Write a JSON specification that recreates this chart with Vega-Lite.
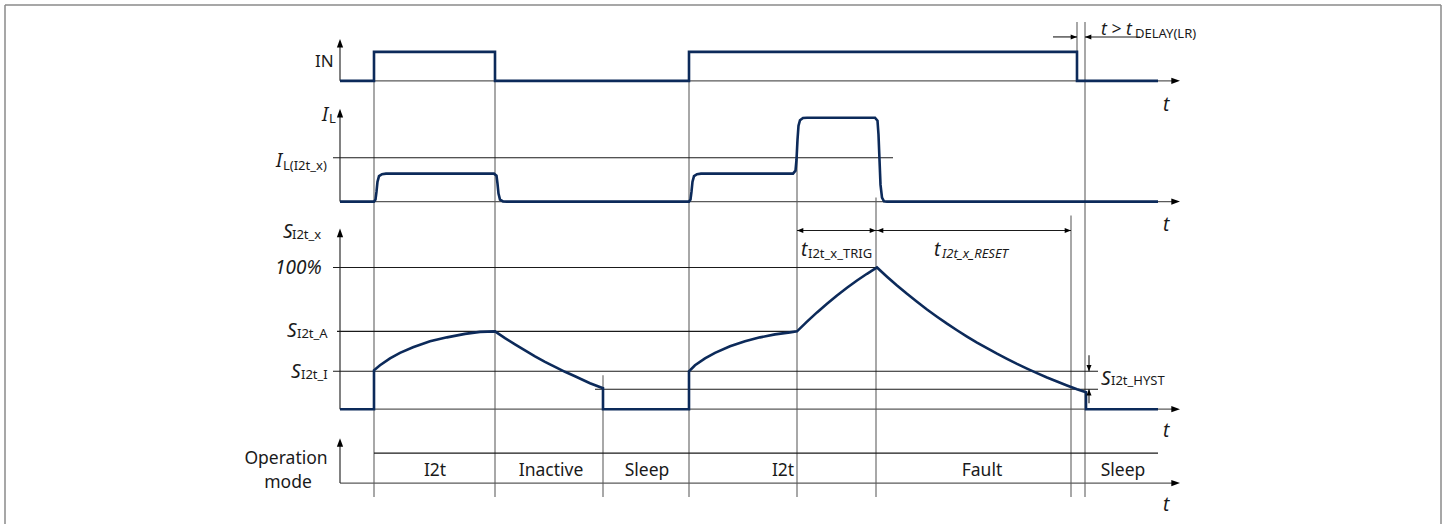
{
  "$schema": "https://vega.github.io/schema/vega-lite/v6.json",
  "width": 1448,
  "height": 525,
  "padding": 0,
  "autosize": {"type": "fit", "contains": "padding"},
  "background": "white",
  "view": {"stroke": null},
  "datasets": {
    "sigIN": [
      {"i": 0, "x": 340, "y": 81}, {"i": 1, "x": 374, "y": 81}, {"i": 2, "x": 374, "y": 52}, {"i": 3, "x": 495, "y": 52},
      {"i": 4, "x": 495, "y": 81}, {"i": 5, "x": 689, "y": 81}, {"i": 6, "x": 689, "y": 52}, {"i": 7, "x": 1077, "y": 52},
      {"i": 8, "x": 1077, "y": 81}, {"i": 9, "x": 1158, "y": 81}
    ],
    "sigIL": [
      {"i": 0, "x": 340, "y": 202}, {"i": 1, "x": 374, "y": 202}, {"i": 2, "x": 375.5, "y": 200}, {"i": 3, "x": 376.5, "y": 192},
      {"i": 4, "x": 377.5, "y": 182}, {"i": 5, "x": 379, "y": 176.5}, {"i": 6, "x": 382, "y": 174.5}, {"i": 7, "x": 386, "y": 174},
      {"i": 8, "x": 494, "y": 174}, {"i": 9, "x": 496.5, "y": 176}, {"i": 10, "x": 497.5, "y": 184}, {"i": 11, "x": 498.5, "y": 194},
      {"i": 12, "x": 500, "y": 200}, {"i": 13, "x": 503, "y": 201.8}, {"i": 14, "x": 507, "y": 202}, {"i": 15, "x": 689, "y": 202},
      {"i": 16, "x": 690.5, "y": 200}, {"i": 17, "x": 691.5, "y": 192}, {"i": 18, "x": 692.5, "y": 182}, {"i": 19, "x": 694, "y": 176.5},
      {"i": 20, "x": 697, "y": 174.5}, {"i": 21, "x": 701, "y": 174}, {"i": 22, "x": 793, "y": 174}, {"i": 23, "x": 795.5, "y": 171},
      {"i": 24, "x": 796.5, "y": 160}, {"i": 25, "x": 797.5, "y": 140}, {"i": 26, "x": 798.5, "y": 126}, {"i": 27, "x": 800, "y": 120.5},
      {"i": 28, "x": 803, "y": 118.3}, {"i": 29, "x": 807, "y": 118}, {"i": 30, "x": 875, "y": 118}, {"i": 31, "x": 877.5, "y": 121},
      {"i": 32, "x": 878.5, "y": 135}, {"i": 33, "x": 879.5, "y": 160}, {"i": 34, "x": 880.5, "y": 185}, {"i": 35, "x": 882, "y": 198},
      {"i": 36, "x": 884, "y": 201.7}, {"i": 37, "x": 887, "y": 202}, {"i": 38, "x": 1158, "y": 202}
    ],
    "sigS": [
      {"i": 0, "x": 340, "y": 410}, {"i": 1, "x": 374, "y": 410}, {"i": 2, "x": 374, "y": 371}, {"i": 3, "x": 380, "y": 366},
      {"i": 4, "x": 390, "y": 359}, {"i": 5, "x": 400, "y": 353.5}, {"i": 6, "x": 413, "y": 348}, {"i": 7, "x": 430, "y": 342},
      {"i": 8, "x": 447, "y": 338}, {"i": 9, "x": 465, "y": 334.5}, {"i": 10, "x": 480, "y": 332.5}, {"i": 11, "x": 495, "y": 332},
      {"i": 12, "x": 505, "y": 338.8}, {"i": 13, "x": 515, "y": 345}, {"i": 14, "x": 525, "y": 351}, {"i": 15, "x": 535, "y": 357},
      {"i": 16, "x": 545, "y": 362.5}, {"i": 17, "x": 555, "y": 367.5}, {"i": 18, "x": 565, "y": 372.5}, {"i": 19, "x": 575, "y": 377},
      {"i": 20, "x": 590, "y": 384}, {"i": 21, "x": 603, "y": 389}, {"i": 22, "x": 603, "y": 410}, {"i": 23, "x": 689, "y": 410},
      {"i": 24, "x": 689, "y": 372}, {"i": 25, "x": 695, "y": 366}, {"i": 26, "x": 705, "y": 359}, {"i": 27, "x": 715, "y": 353.5},
      {"i": 28, "x": 730, "y": 347}, {"i": 29, "x": 745, "y": 342}, {"i": 30, "x": 760, "y": 338}, {"i": 31, "x": 775, "y": 335},
      {"i": 32, "x": 790, "y": 333}, {"i": 33, "x": 797, "y": 332}, {"i": 34, "x": 807, "y": 322.3}, {"i": 35, "x": 817, "y": 313},
      {"i": 36, "x": 827, "y": 304.3}, {"i": 37, "x": 837, "y": 296}, {"i": 38, "x": 847, "y": 288.3}, {"i": 39, "x": 857, "y": 281},
      {"i": 40, "x": 867, "y": 274.3}, {"i": 41, "x": 877, "y": 268}, {"i": 42, "x": 887, "y": 277.2}, {"i": 43, "x": 897, "y": 286},
      {"i": 44, "x": 907, "y": 294.4}, {"i": 45, "x": 917, "y": 302.4}, {"i": 46, "x": 927, "y": 310.1}, {"i": 47, "x": 937, "y": 317.3},
      {"i": 48, "x": 947, "y": 324.3}, {"i": 49, "x": 957, "y": 330.9}, {"i": 50, "x": 967, "y": 337.2}, {"i": 51, "x": 977, "y": 343.2},
      {"i": 52, "x": 987, "y": 348.9}, {"i": 53, "x": 997, "y": 354.4}, {"i": 54, "x": 1007, "y": 359.6}, {"i": 55, "x": 1017, "y": 364.6},
      {"i": 56, "x": 1027, "y": 369.3}, {"i": 57, "x": 1037, "y": 373.8}, {"i": 58, "x": 1047, "y": 378.2}, {"i": 59, "x": 1057, "y": 382.3},
      {"i": 60, "x": 1067, "y": 386.2}, {"i": 61, "x": 1077, "y": 389.9}, {"i": 62, "x": 1086, "y": 393}, {"i": 63, "x": 1086, "y": 410},
      {"i": 64, "x": 1158, "y": 410}
    ],
    "blackLines": [
      {"x": 340, "x2": 340, "y": 81, "y2": 44}, {"x": 340, "x2": 340, "y": 202, "y2": 114},
      {"x": 340, "x2": 340, "y": 410, "y2": 234}, {"x": 340, "x2": 340, "y": 484, "y2": 444},
      {"x": 333, "x2": 893, "y": 158, "y2": 158}, {"x": 333, "x2": 877, "y": 268, "y2": 268},
      {"x": 337, "x2": 797, "y": 332, "y2": 332}, {"x": 333, "x2": 1098, "y": 372, "y2": 372},
      {"x": 595, "x2": 1098, "y": 390, "y2": 390}, {"x": 374, "x2": 1158, "y": 454, "y2": 454},
      {"x": 797, "x2": 1071, "y": 231, "y2": 231}, {"x": 1053, "x2": 1077, "y": 37, "y2": 37},
      {"x": 1085, "x2": 1140, "y": 37, "y2": 37}, {"x": 1089, "x2": 1089, "y": 356, "y2": 372},
      {"x": 1089, "x2": 1089, "y": 390, "y2": 404}
    ],
    "baseLines": [
      {"x": 340, "x2": 1174, "y": 81, "y2": 81}, {"x": 340, "x2": 1174, "y": 202, "y2": 202},
      {"x": 340, "x2": 1174, "y": 410, "y2": 410}, {"x": 340, "x2": 1174, "y": 484, "y2": 484}
    ],
    "guides": [
      {"x": 374, "x2": 374, "y": 52, "y2": 498}, {"x": 495, "x2": 495, "y": 52, "y2": 498},
      {"x": 689, "x2": 689, "y": 52, "y2": 498}, {"x": 797, "x2": 797, "y": 142, "y2": 498},
      {"x": 876, "x2": 876, "y": 198, "y2": 498}, {"x": 603, "x2": 603, "y": 376, "y2": 498},
      {"x": 1071, "x2": 1071, "y": 216, "y2": 498}, {"x": 1085, "x2": 1085, "y": 22, "y2": 498},
      {"x": 1077, "x2": 1077, "y": 22, "y2": 52}
    ],
    "frame": [
      {"x": 5, "x2": 1441, "y": 5, "y2": 5}, {"x": 5, "x2": 5, "y": 5, "y2": 525},
      {"x": 1441, "x2": 1441, "y": 5, "y2": 525}
    ],
    "tipUpAxis": [{"x": 340, "y": 39}, {"x": 340, "y": 109}, {"x": 340, "y": 229}, {"x": 340, "y": 439}],
    "tipRightAxis": [{"x": 1180, "y": 81}, {"x": 1180, "y": 202}, {"x": 1180, "y": 410}, {"x": 1180, "y": 484}],
    "tipRight": [{"x": 876, "y": 231}, {"x": 1071, "y": 231}, {"x": 1077, "y": 37}],
    "tipLeft": [{"x": 797, "y": 231}, {"x": 877, "y": 231}, {"x": 1085, "y": 37}],
    "tipUp": [{"x": 1089, "y": 390}],
    "tipDown": [{"x": 1089, "y": 372}],
    "txtBigItalic": [
      {"x": 322, "y": 121, "t": "I"}, {"x": 276, "y": 167, "t": "I"}, {"x": 283, "y": 238, "t": "S"},
      {"x": 275, "y": 275, "t": "100%"}, {"x": 287, "y": 338, "t": "S"}, {"x": 291, "y": 379, "t": "S"},
      {"x": 1163, "y": 111, "t": "t"}, {"x": 1163, "y": 231, "t": "t"}, {"x": 1163, "y": 438, "t": "t"},
      {"x": 1163, "y": 512, "t": "t"}, {"x": 801, "y": 256, "t": "t"}, {"x": 934, "y": 256, "t": "t"},
      {"x": 1101, "y": 386, "t": "S"}
    ],
    "txtDelay": [{"x": 1101, "y": 35, "t": "t > t"}],
    "txtSub": [
      {"x": 329, "y": 123, "t": "L"}, {"x": 283, "y": 170, "t": "L(I2t_x)"}, {"x": 292, "y": 239, "t": "I2t_x"},
      {"x": 297, "y": 339, "t": "I2t_A"}, {"x": 301, "y": 380, "t": "I2t_I"}, {"x": 808, "y": 258, "t": "I2t_x_TRIG"},
      {"x": 1135, "y": 38, "t": "DELAY(LR)"}, {"x": 1111, "y": 386, "t": "I2t_HYST"}
    ],
    "txtSubItalic": [{"x": 942, "y": 258, "t": "I2t_x_RESET"}],
    "txtLeft": [{"x": 315, "y": 67, "t": "IN"}],
    "txtCenter": [
      {"x": 286, "y": 465, "t": "Operation"}, {"x": 288, "y": 489, "t": "mode"},
      {"x": 435, "y": 477, "t": "I2t"}, {"x": 551, "y": 477, "t": "Inactive"}, {"x": 647, "y": 477, "t": "Sleep"},
      {"x": 783, "y": 477, "t": "I2t"}, {"x": 982, "y": 477, "t": "Fault"}, {"x": 1123, "y": 477, "t": "Sleep"}
    ]
  },
  "encoding": {
    "x": {"field": "x", "type": "quantitative", "scale": {"domain": [0, 1448], "nice": false, "zero": false}, "axis": null},
    "y": {"field": "y", "type": "quantitative", "scale": {"domain": [0, 525], "reverse": true, "nice": false, "zero": false}, "axis": null}
  },
  "layer": [
    {"data": {"name": "frame"}, "mark": {"type": "rule", "color": "#8a8a8a", "strokeWidth": 1.5},
     "encoding": {"x2": {"field": "x2"}, "y2": {"field": "y2"}}},
    {"data": {"name": "guides"}, "mark": {"type": "rule", "color": "#6e6e6e", "strokeWidth": 1.2},
     "encoding": {"x2": {"field": "x2"}, "y2": {"field": "y2"}}},
    {"data": {"name": "baseLines"}, "mark": {"type": "rule", "color": "#5a5a5a", "strokeWidth": 1.3},
     "encoding": {"x2": {"field": "x2"}, "y2": {"field": "y2"}}},
    {"data": {"name": "blackLines"}, "mark": {"type": "rule", "color": "#1a1a1a", "strokeWidth": 1.1},
     "encoding": {"x2": {"field": "x2"}, "y2": {"field": "y2"}}},
    {"data": {"name": "sigIN"}, "mark": {"type": "line", "color": "#0c2a5a", "strokeWidth": 2.6, "strokeJoin": "miter"},
     "encoding": {"order": {"field": "i", "type": "quantitative"}}},
    {"data": {"name": "sigIL"}, "mark": {"type": "line", "color": "#0c2a5a", "strokeWidth": 2.6},
     "encoding": {"order": {"field": "i", "type": "quantitative"}}},
    {"data": {"name": "sigS"}, "mark": {"type": "line", "color": "#0c2a5a", "strokeWidth": 2.6, "strokeJoin": "miter"},
     "encoding": {"order": {"field": "i", "type": "quantitative"}}},
    {"data": {"name": "tipUpAxis"}, "mark": {"type": "point", "filled": true, "color": "#000000", "opacity": 1, "size": 300, "shape": "M0,0L-0.36,1L0.36,1Z"}},
    {"data": {"name": "tipRightAxis"}, "mark": {"type": "point", "filled": true, "color": "#000000", "opacity": 1, "size": 300, "shape": "M0,0L-1,-0.36L-1,0.36Z"}},
    {"data": {"name": "tipRight"}, "mark": {"type": "point", "filled": true, "color": "#000000", "opacity": 1, "size": 160, "shape": "M0,0L-1,-0.4L-1,0.4Z"}},
    {"data": {"name": "tipLeft"}, "mark": {"type": "point", "filled": true, "color": "#000000", "opacity": 1, "size": 160, "shape": "M0,0L1,-0.4L1,0.4Z"}},
    {"data": {"name": "tipUp"}, "mark": {"type": "point", "filled": true, "color": "#000000", "opacity": 1, "size": 160, "shape": "M0,0L-0.4,1L0.4,1Z"}},
    {"data": {"name": "tipDown"}, "mark": {"type": "point", "filled": true, "color": "#000000", "opacity": 1, "size": 160, "shape": "M0,0L-0.4,-1L0.4,-1Z"}},
    {"data": {"name": "txtBigItalic"}, "mark": {"type": "text", "align": "left", "baseline": "alphabetic", "font": "Noto Sans", "fontSize": 19, "fontStyle": "italic", "color": "#1a1a1a"},
     "encoding": {"text": {"field": "t"}}},
    {"data": {"name": "txtDelay"}, "mark": {"type": "text", "align": "left", "baseline": "alphabetic", "font": "Noto Sans", "fontSize": 17.5, "fontStyle": "italic", "color": "#1a1a1a"},
     "encoding": {"text": {"field": "t"}}},
    {"data": {"name": "txtSub"}, "mark": {"type": "text", "align": "left", "baseline": "alphabetic", "font": "Noto Sans", "fontSize": 13, "color": "#1a1a1a"},
     "encoding": {"text": {"field": "t"}}},
    {"data": {"name": "txtSubItalic"}, "mark": {"type": "text", "align": "left", "baseline": "alphabetic", "font": "Noto Sans", "fontSize": 13, "fontStyle": "italic", "color": "#1a1a1a"},
     "encoding": {"text": {"field": "t"}}},
    {"data": {"name": "txtLeft"}, "mark": {"type": "text", "align": "left", "baseline": "alphabetic", "font": "Noto Sans", "fontSize": 17, "color": "#1a1a1a"},
     "encoding": {"text": {"field": "t"}}},
    {"data": {"name": "txtCenter"}, "mark": {"type": "text", "align": "center", "baseline": "alphabetic", "font": "Noto Sans", "fontSize": 17.5, "color": "#1a1a1a"},
     "encoding": {"text": {"field": "t"}}}
  ]
}
